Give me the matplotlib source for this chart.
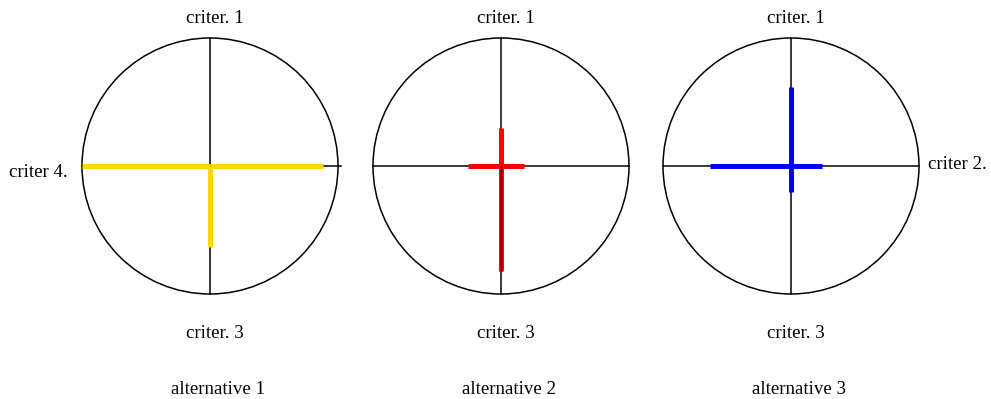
import numpy as np
import matplotlib.pyplot as plt
from matplotlib.patches import Circle

plt.rcParams['font.family'] = ['Liberation Serif', 'DejaVu Serif']

# values on the four criteria (up, right, down, left), 0..1 of the radius
alternatives = ["alternative 1", "alternative 2", "alternative 3"]
criter1 = [0.0, 0.30, 0.62]
criter2 = [0.88, 0.18, 0.24]
criter3 = [0.63, 0.82, 0.20]
criter4 = [1.0, 0.26, 0.63]
colors = ["#FFD700", "#FF0000", "#0000FF"]

W, H = 991, 399
fig = plt.figure(figsize=(W / 100, H / 100), dpi=100)

centers_x = [210, 501, 791]
center_y = 166
R = 128          # circle radius in pixels
half = 1.3       # axes half-width in data units

for i, name in enumerate(alternatives):
    cx = centers_x[i]
    size = 2 * half * R
    ax = fig.add_axes([(cx - half * R) / W, (H - center_y - half * R) / H,
                       size / W, size / H])
    ax.set_xlim(-half, half)
    ax.set_ylim(-half, half)
    ax.set_aspect('equal')
    ax.axis('off')

    ax.add_patch(Circle((0, 0), 1, fill=False, ec='black', lw=1.1))
    ax.plot([0, 0], [-1, 1], color='black', lw=1.1, zorder=2)
    ax.plot([-1, 1.02 if i == 0 else 1], [0, 0], color='black', lw=1.1, zorder=2)

    c = colors[i]
    lw = 3.6
    if criter1[i] > 0:
        ax.plot([0, 0], [0, criter1[i]], color=c, lw=lw, solid_capstyle='butt', zorder=3)
    ax.plot([0, criter2[i]], [0, 0], color=c, lw=lw, solid_capstyle='butt', zorder=3)
    ax.plot([0, 0], [0, -criter3[i]], color=c, lw=lw, solid_capstyle='butt', zorder=3)
    ax.plot([0, -criter4[i]], [0, 0], color=c, lw=lw, solid_capstyle='butt', zorder=3)
    if i == 1:
        # axis line shows through the lower red segment
        ax.plot([0, 0], [0, -criter3[i]], color='black', lw=1.0, zorder=4)

    ax.text(0.04, 1.155, "criter. 1", ha='center', va='center', fontsize=13.6)
    ax.text(0.04, -1.305, "criter. 3", ha='center', va='center', fontsize=13.6)
    ax.text(0.06, -1.75, name, ha='center', va='center', fontsize=13.6)
    if i == 0:
        ax.text(-1.11, -0.05, "criter 4.", ha='right', va='center', fontsize=13.6)
    if i == 2:
        ax.text(1.07, 0.015, "criter 2.", ha='left', va='center', fontsize=13.6)

fig.savefig("out.png", dpi=100)
